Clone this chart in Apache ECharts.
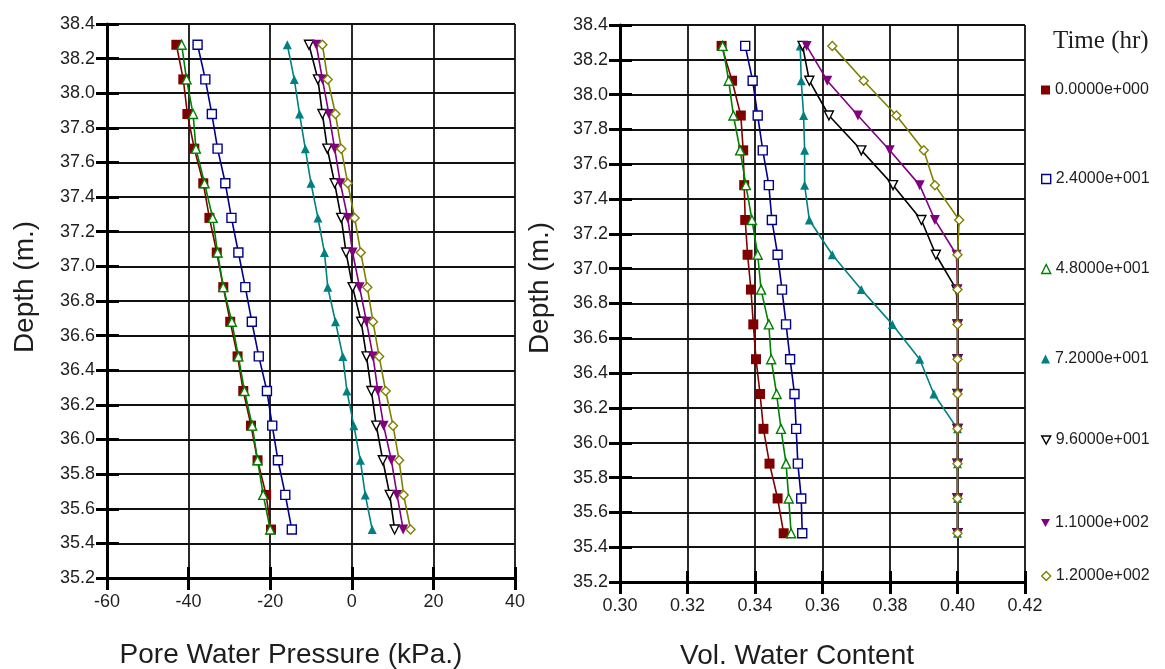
<!DOCTYPE html>
<html>
<head>
<meta charset="utf-8">
<script src="https://cdn.jsdelivr.net/npm/echarts@6/dist/echarts.min.js"></script>
<style>
  html, body { margin: 0; padding: 0; background: #ffffff; }
  #chart { width: 1165px; height: 669px; }
</style>
</head>
<body>
<div id="chart"></div>
<script>
// Depth of each computed node (m)
const depths = [38.28, 38.08, 37.88, 37.68, 37.48, 37.28, 37.08, 36.88, 36.68, 36.48, 36.28, 36.08, 35.88, 35.68, 35.48];

// Output times (hr)
const timeLabels = ['0.0000e+000', '2.4000e+001', '4.8000e+001', '7.2000e+001', '9.6000e+001', '1.1000e+002', '1.2000e+002'];

// Pore water pressure (kPa) at each depth, one array per time
const pwp0   = [-43.0, -41.3, -40.3, -38.6, -36.4, -34.9, -33.1, -31.5, -29.8, -28.0, -26.6, -24.7, -23.1, -21.0, -19.8];
const pwp24  = [-37.8, -35.9, -34.3, -32.9, -31.0, -29.5, -27.8, -26.1, -24.5, -22.8, -20.8, -19.5, -18.1, -16.3, -14.7];
const pwp48  = [-41.7, -40.5, -38.9, -38.2, -36.1, -34.1, -32.9, -31.5, -29.4, -27.8, -26.3, -24.4, -23.1, -21.7, -20.0];
const pwp72  = [-15.8, -14.1, -12.8, -11.4, -10.0, -8.3, -6.7, -5.9, -4.0, -2.2, -1.2, 0.5, 2.1, 3.3, 5.0];
const pwp96  = [-10.5, -8.3, -7.2, -6.0, -4.2, -2.6, -1.4, 0.2, 2.3, 3.6, 4.8, 6.0, 7.6, 9.3, 10.5];
const pwp110 = [-8.7, -7.2, -5.6, -4.2, -2.8, -1.0, 0.2, 1.9, 3.6, 5.2, 6.4, 7.8, 9.7, 11.1, 12.6];
const pwp120 = [-7.2, -5.9, -4.0, -2.6, -1.0, 0.7, 2.2, 3.8, 5.2, 6.7, 8.3, 10.1, 11.6, 12.7, 14.4];

// Volumetric water content at each depth, one array per time
const vwc0   = [0.3301, 0.3332, 0.3358, 0.3365, 0.3368, 0.3371, 0.3378, 0.3388, 0.3395, 0.3403, 0.3415, 0.3425, 0.3443, 0.3467, 0.3485];
const vwc24  = [0.3371, 0.3393, 0.3408, 0.3423, 0.3441, 0.3450, 0.3467, 0.3480, 0.3492, 0.3504, 0.3517, 0.3522, 0.3527, 0.3537, 0.3540];
const vwc48  = [0.3304, 0.3322, 0.3336, 0.3356, 0.3373, 0.3391, 0.3408, 0.3418, 0.3441, 0.3448, 0.3464, 0.3477, 0.3492, 0.3500, 0.3507];
const vwc72  = [0.3534, 0.3537, 0.3544, 0.3547, 0.3547, 0.3561, 0.3629, 0.3715, 0.3807, 0.3888, 0.3930, 0.4000, 0.4000, 0.4000, 0.4000];
const vwc96  = [0.3541, 0.3561, 0.3619, 0.3715, 0.3809, 0.3893, 0.3936, 0.3997, 0.4000, 0.4000, 0.4000, 0.4000, 0.4000, 0.4000, 0.4000];
const vwc110 = [0.3553, 0.3614, 0.3705, 0.3799, 0.3888, 0.3933, 0.3997, 0.4000, 0.4000, 0.4000, 0.4000, 0.4000, 0.4000, 0.4000, 0.4000];
const vwc120 = [0.3629, 0.3722, 0.3819, 0.3900, 0.3933, 0.4005, 0.4000, 0.4000, 0.4000, 0.4000, 0.4000, 0.4000, 0.4000, 0.4000, 0.4000];

const pwpSets = [pwp0, pwp24, pwp48, pwp72, pwp96, pwp110, pwp120];
const vwcSets = [vwc0, vwc24, vwc48, vwc72, vwc96, vwc110, vwc120];

// ---- appearance ----
const SANS = "'Liberation Sans', Arial, sans-serif";
const SERIF = "'Liberation Serif', 'Times New Roman', serif";
const TXT = '#1e1e1e';
const DOWN_TRI = 'path://M0,0L10,0L5,9Z';

const markers = [
  { color: '#800000', symbol: 'rect',     hollow: false, size: 10 },
  { color: '#00008b', symbol: 'rect',     hollow: true,  size: 9 },
  { color: '#008000', symbol: 'triangle', hollow: true,  size: 9 },
  { color: '#008080', symbol: 'triangle', hollow: false, size: 9 },
  { color: '#000000', symbol: DOWN_TRI,   hollow: true,  size: 9 },
  { color: '#800080', symbol: DOWN_TRI,   hollow: false, size: 10 },
  { color: '#808000', symbol: 'diamond',  hollow: true,  size: 9 }
];

function markerStyle(m) {
  return m.hollow
    ? { color: '#ffffff', borderColor: m.color, borderWidth: 1.4 }
    : { color: m.color, borderColor: m.color, borderWidth: 0 };
}

// two plotting areas: pressure (left) and water content (right)
const grids = [
  { left: 107, top: 24, width: 408, height: 554 },
  { left: 620, top: 25, width: 405, height: 557 }
];

const xRanges = [
  { min: -60, max: 40, interval: 20, fmt: v => String(Math.round(v)) },
  { min: 0.30, max: 0.42, interval: 0.02, fmt: v => v.toFixed(2) }
];

const depthRange = { min: 35.2, max: 38.4, interval: 0.2 };

const xAxes = [];
const yAxes = [];
xRanges.forEach((r, g) => {
  // main x axis: line, labels, outward ticks, vertical grid lines
  xAxes.push({
    type: 'value', gridIndex: g, position: 'bottom',
    min: r.min, max: r.max, interval: r.interval,
    axisLine: { show: true, onZero: false, lineStyle: { color: '#000', width: 3 } },
    axisTick: { show: true, inside: false, length: 12, lineStyle: { color: '#000', width: 3 } },
    axisLabel: { show: true, margin: 15, formatter: r.fmt, color: TXT, fontFamily: SANS, fontSize: 18 },
    splitLine: { show: true, lineStyle: { color: '#111', width: 1.8 } }
  });
  // companion x axis: inward half of the tick marks
  xAxes.push({
    type: 'value', gridIndex: g, position: 'bottom',
    min: r.min, max: r.max, interval: r.interval,
    axisLine: { show: false, onZero: false },
    axisTick: { show: true, inside: true, length: 11, lineStyle: { color: '#000', width: 3 } },
    axisLabel: { show: false },
    splitLine: { show: false }
  });
  yAxes.push({
    type: 'value', gridIndex: g, position: 'left',
    min: depthRange.min, max: depthRange.max, interval: depthRange.interval,
    axisLine: { show: true, onZero: false, lineStyle: { color: '#000', width: 3 } },
    axisTick: { show: true, inside: false, length: 11, lineStyle: { color: '#000', width: 3 } },
    axisLabel: { show: true, margin: 12, formatter: v => v.toFixed(1), color: TXT, fontFamily: SANS, fontSize: 18 },
    splitLine: { show: true, lineStyle: { color: '#111', width: 1.8 } }
  });
  // companion y axis: inward half of the tick marks
  yAxes.push({
    type: 'value', gridIndex: g, position: 'left',
    min: depthRange.min, max: depthRange.max, interval: depthRange.interval,
    axisLine: { show: false, onZero: false },
    axisTick: { show: true, inside: true, length: 12, lineStyle: { color: '#000', width: 3 } },
    axisLabel: { show: false },
    splitLine: { show: false }
  });
});

function buildSeries(sets, g) {
  return sets.map((vals, k) => {
    const m = markers[k];
    return {
      type: 'line',
      name: timeLabels[k],
      xAxisIndex: g * 2,
      yAxisIndex: g * 2,
      data: depths.map((d, i) => [vals[i], d]),
      symbol: m.symbol,
      symbolSize: m.size,
      showSymbol: true,
      showAllSymbol: true,
      lineStyle: { color: m.color, width: 1.6 },
      itemStyle: markerStyle(m),
      emphasis: { disabled: true },
      z: 3 + k
    };
  });
}

// legend entries, one block per time, stacked down the right side
const legendRows = [91, 180, 270, 360, 441, 524, 577];
const legends = timeLabels.map((name, k) => ({
  data: [{ name: name, icon: markers[k].symbol, itemStyle: markerStyle(markers[k]) }],
  left: 1041,
  top: legendRows[k] - 9,
  padding: 0,
  itemWidth: 9,
  itemHeight: 9,
  itemGap: 8,
  textStyle: { color: TXT, fontFamily: SANS, fontSize: 16 }
}));

const chart = echarts.init(document.getElementById('chart'), null, { renderer: 'canvas' });
chart.setOption({
  animation: false,
  backgroundColor: '#ffffff',
  title: {
    text: 'Time (hr)',
    left: 1053, top: 29, padding: 0,
    textStyle: { fontFamily: SERIF, fontWeight: 'normal', fontSize: 25, color: TXT }
  },
  legend: legends,
  grid: grids,
  xAxis: xAxes,
  yAxis: yAxes,
  series: buildSeries(pwpSets, 0).concat(buildSeries(vwcSets, 1)),
  graphic: [
    { type: 'text', x: 25, y: 287, rotation: Math.PI / 2,
      style: { text: 'Depth (m.)', font: '28px ' + SANS, fill: TXT, align: 'center', verticalAlign: 'middle', textAlign: 'center', textVerticalAlign: 'middle' } },
    { type: 'text', x: 540, y: 288, rotation: Math.PI / 2,
      style: { text: 'Depth (m.)', font: '28px ' + SANS, fill: TXT, align: 'center', verticalAlign: 'middle', textAlign: 'center', textVerticalAlign: 'middle' } },
    { type: 'text', x: 291, y: 655,
      style: { text: 'Pore Water Pressure (kPa.)', font: '28px ' + SANS, fill: TXT, align: 'center', verticalAlign: 'middle', textAlign: 'center', textVerticalAlign: 'middle' } },
    { type: 'text', x: 797, y: 656,
      style: { text: 'Vol. Water Content', font: '28px ' + SANS, fill: TXT, align: 'center', verticalAlign: 'middle', textAlign: 'center', textVerticalAlign: 'middle' } }
  ]
});
</script>
</body>
</html>
